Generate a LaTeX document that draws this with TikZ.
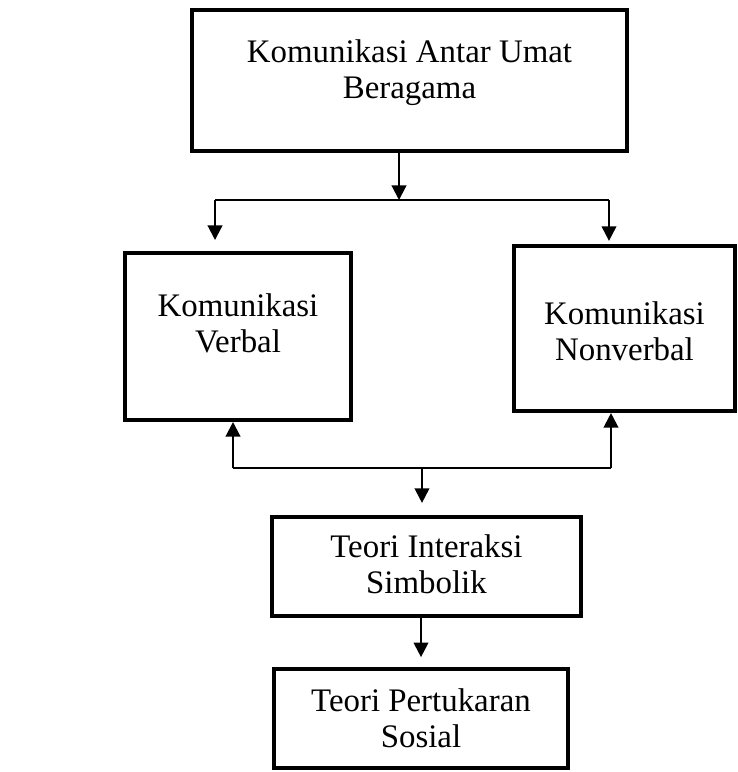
\documentclass[tikz,border=0pt]{standalone}
\usepackage{fontspec}
\setmainfont{Liberation Serif}
\usetikzlibrary{arrows.meta}

\begin{document}
\begin{tikzpicture}[
square/.style={rectangle, draw=black, fill=white, line width=3pt, inner sep=0pt, align=center, font=\fontsize{24.75}{27}\selectfont},
out_arrow/.style={-{Triangle[length=11pt,width=11pt]}, line width=1.6pt},
plain_line/.style={line width=1.6pt}
]
\useasboundingbox (0,0) rectangle (19.5,-20.426);

% \node[square, minimum width=..., minimum height=..., text depth=...](name_of_node) at (x,y) {line\\line};
\node[square, minimum width=11.51cm, minimum height=3.73cm, text depth=17pt](antar_umat) at (10.835,-2.130) {Komunikasi Antar Umat\\Beragama};

\node[square, minimum width=5.98cm, minimum height=4.42cm, text depth=20pt](verbal) at (6.297,-8.903) {Komunikasi\\Verbal};
\node[square, minimum width=5.85cm, minimum height=4.37cm, text height=48pt](nonverbal) at (16.523,-8.691) {Komunikasi\\Nonverbal};

\node[square, minimum width=8.18cm, minimum height=2.62cm, text depth=4pt](interaksi) at (11.284,-14.989) {Teori Interaksi\\Simbolik};
\node[square, minimum width=7.78cm, minimum height=2.62cm](pertukaran) at (11.139,-19.010) {Teori Pertukaran\\Sosial};

% split and join points of the connectors
\coordinate (split_top) at (10.557,-5.292);
\coordinate (split_left) at (5.689,-5.292);
\coordinate (split_right) at (16.113,-5.292);
\coordinate (join_bottom) at (11.165,-12.382);
\coordinate (join_left) at (6.165,-12.382);
\coordinate (join_right) at (16.166,-12.382);

% \draw[out_arrow](name_of_node.direction -| coordinate) -- (coordinate)
\draw[out_arrow](antar_umat.south -| split_top) -- (split_top);
\draw[plain_line](split_left) -- (split_right);
\draw[out_arrow, shorten >=0.29cm](split_left) -- (split_left |- verbal.north);
\draw[out_arrow, shorten >=0.08cm](split_right) -- (split_right |- nonverbal.north);

\draw[plain_line](join_left) -- (join_right);
\draw[out_arrow](join_left) -- (join_left |- verbal.south);
\draw[out_arrow](join_right) -- (join_right |- nonverbal.south);
\draw[out_arrow, shorten >=0.32cm](join_bottom) -- (join_bottom |- interaksi.north);

\draw[out_arrow, shorten >=0.26cm](interaksi.south -| pertukaran.north) -- (pertukaran.north);

\end{tikzpicture}
\end{document}
